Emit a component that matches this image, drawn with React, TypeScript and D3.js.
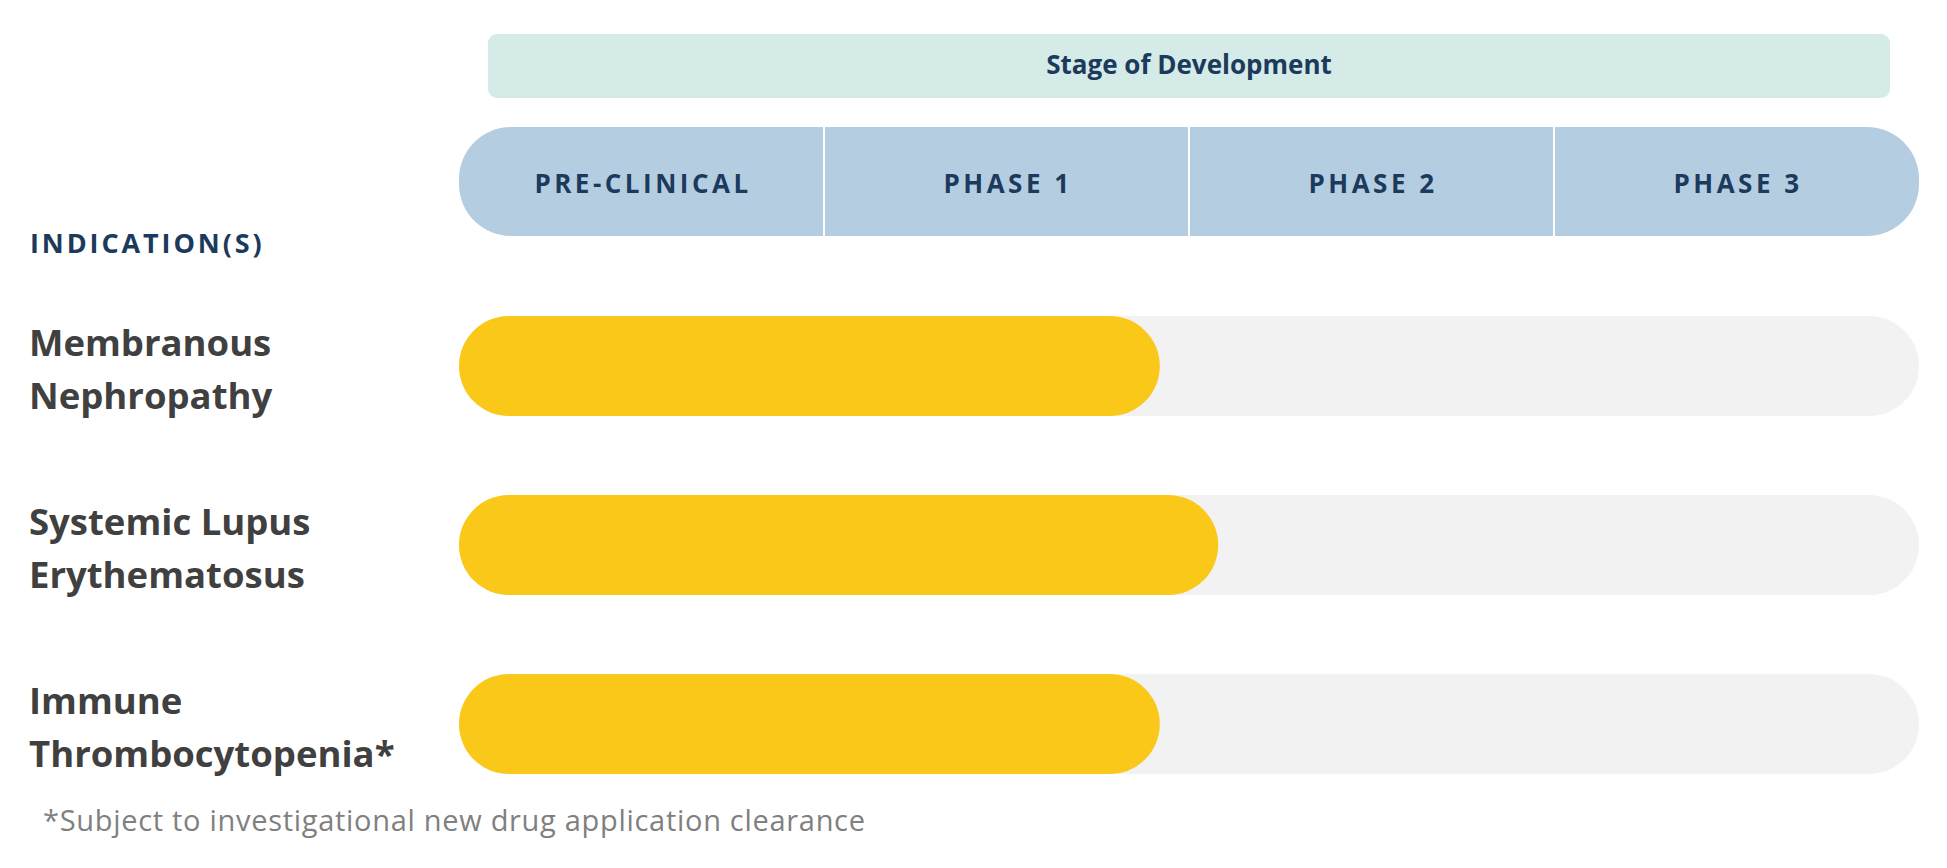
import React from "react";
import * as d3 from "d3";

const phases = ["PRE-CLINICAL", "PHASE 1", "PHASE 2", "PHASE 3"];
const indications = [
  ["Membranous", "Nephropathy"],
  ["Systemic Lupus", "Erythematosus"],
  ["Immune", "Thrombocytopenia*"],
];
const progress = [1.92, 2.08, 1.92];
const title = "Stage of Development";
const rowHeader = "INDICATION(S)";
const footnote = "*Subject to investigational new drug application clearance";

const W = 1947;
const H = 868;
const FONT = "'Open Sans', 'Noto Sans', sans-serif";

export default function App() {
  const x = d3.scaleLinear().domain([0, phases.length]).range([459, 1919]);
  const y = d3
    .scaleBand<number>()
    .domain(d3.range(indications.length))
    .range([316, 774])
    .paddingInner(79 / 179)
    .paddingOuter(0);
  const bw = y.bandwidth();
  const headerTop = 127;
  const headerH = 109;

  return (
    <svg
      width={W}
      height={H}
      style={{ position: "absolute", left: 0, top: 0, background: "#ffffff" }}
    >
      <rect x={0} y={0} width={W} height={H} fill="#ffffff" />
      {/* Stage of development box */}
      <rect x={488} y={34} width={1890 - 488} height={64} rx={9} fill="#d5ebe7" />
      <text
        x={(488 + 1890) / 2}
        y={74}
        textAnchor="middle"
        fontFamily={FONT}
        fontWeight={700}
        fontSize={26}
        fill="#1b3a5c"
      >
        {title}
      </text>

      {/* Phase header */}
      <rect
        x={x(0)}
        y={headerTop}
        width={x(phases.length) - x(0)}
        height={headerH}
        rx={52}
        fill="#b5cde1"
      />
      {phases.slice(1).map((_, i) => (
        <line
          key={"d" + i}
          x1={x(i + 1)}
          x2={x(i + 1)}
          y1={headerTop}
          y2={headerTop + headerH}
          stroke="#ffffff"
          strokeWidth={2}
        />
      ))}
      {phases.map((p, i) => (
        <text
          key={p}
          x={(x(i) + x(i + 1)) / 2 + 1.5}
          y={193}
          textAnchor="middle"
          fontFamily={FONT}
          fontWeight={700}
          fontSize={26}
          letterSpacing={3.5}
          fill="#1b3a5c"
        >
          {p}
        </text>
      ))}

      <text
        x={30}
        y={253}
        fontFamily={FONT}
        fontWeight={700}
        fontSize={27}
        letterSpacing={2.9}
        fill="#1b3a5c"
      >
        {rowHeader}
      </text>

      {indications.map((lines, i) => {
        const top = y(i) as number;
        return (
          <g key={i}>
            <rect
              x={x(0)}
              y={top}
              width={x(phases.length) - x(0)}
              height={bw}
              rx={bw / 2}
              fill="#f2f2f2"
            />
            <rect
              x={x(0)}
              y={top}
              width={x(progress[i]) - x(0)}
              height={bw}
              rx={bw / 2}
              fill="#fac818"
            />
            {lines.map((t, j) => (
              <text
                key={j}
                x={29}
                y={top + 40 + j * 53}
                fontFamily={FONT}
                fontWeight={700}
                fontSize={36.5}
                fill="#404040"
              >
                {t}
              </text>
            ))}
          </g>
        );
      })}

      <text
        x={43}
        y={831}
        fontFamily={FONT}
        fontWeight={400}
        fontSize={29}
        letterSpacing={0.7}
        fill="#808080"
      >
        {footnote}
      </text>
    </svg>
  );
}
